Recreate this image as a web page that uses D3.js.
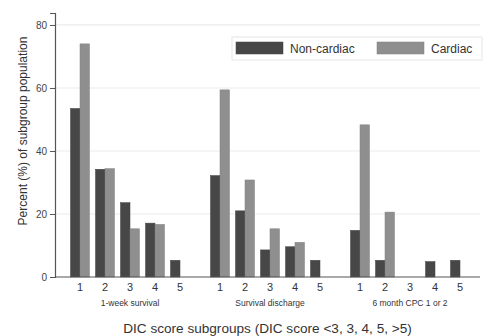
<!DOCTYPE html>
<html><head><meta charset="utf-8">
<script src="https://cdn.jsdelivr.net/npm/d3@7"></script>
<style>body{margin:0;background:#fff}svg{display:block;font-family:"Liberation Sans",Arial,sans-serif}</style>
</head><body><svg id="c" width="485" height="336"></svg>
<script>
const groups = ["1-week survival", "Survival discharge", "6 month CPC 1 or 2"];
const categories = ["1", "2", "3", "4", "5"];
const seriesNames = ["Non-cardiac", "Cardiac"];
const nonCardiac = [
  [53.5, 34.2, 23.6, 17.1, 5.3],
  [32.2, 21.0, 8.6, 9.6, 5.3],
  [14.8, 5.3, 0, 4.9, 5.3]
];
const cardiac = [
  [74.0, 34.4, 15.3, 16.7, 0],
  [59.4, 30.8, 15.3, 11.0, 0],
  [48.3, 20.6, 0, 0, 0]
];
const yTicks = [0, 20, 40, 60, 80];
const colors = ["#474747", "#8f8f8f"];

(function(){
const svg = d3.select("#c");
const mLeft = 55, mRight = 480, mTop = 13, mBottom = 277;
const y = d3.scaleLinear().domain([0, 83.8]).range([mBottom, mTop]);
const xg = d3.scaleBand().domain(groups).range([60, 480]).paddingInner(15/140).paddingOuter(7.5/140);
const xc = d3.scaleBand().domain(categories).range([0, xg.bandwidth()]).paddingInner(0.24).paddingOuter(0.12);
const xs = d3.scaleBand().domain(seriesNames).range([0, xc.bandwidth()]);

// gridlines
svg.append("g").selectAll("line").data(yTicks.filter(d => d > 0)).join("line")
  .attr("x1", mLeft).attr("x2", mRight).attr("y1", d => y(d)).attr("y2", d => y(d))
  .attr("stroke", "#ebebeb").attr("stroke-width", 1.2);

// bars
const data = [];
groups.forEach((g, gi) => categories.forEach((c, ci) => {
  data.push({g, c, s: seriesNames[0], v: nonCardiac[gi][ci], col: colors[0]});
  data.push({g, c, s: seriesNames[1], v: cardiac[gi][ci], col: colors[1]});
}));
svg.append("g").selectAll("rect").data(data.filter(d => d.v > 0)).join("rect")
  .attr("x", d => xg(d.g) + xc(d.c) + xs(d.s))
  .attr("width", xs.bandwidth())
  .attr("y", d => y(d.v))
  .attr("height", d => y(0) - y(d.v))
  .attr("fill", d => d.col)
  .attr("stroke", d => d3.color(d.col).darker(0.3)).attr("stroke-width", 0.5);

// y axis
const yAxis = d3.axisLeft(y).tickValues(yTicks).tickSize(5).tickPadding(3);
const ya = svg.append("g").attr("transform", `translate(${mLeft},0)`).call(yAxis);
ya.select(".domain").attr("stroke", "#555").attr("stroke-width", 1.2);
ya.selectAll(".tick line").attr("stroke", "#555");
ya.selectAll("text").attr("font-size", 10).attr("fill", "#444").attr("font-family", "Liberation Sans, Arial, sans-serif");

// x axis line
svg.append("line").attr("x1", mLeft).attr("x2", mRight).attr("y1", mBottom).attr("y2", mBottom)
  .attr("stroke", "#555").attr("stroke-width", 1.2);

// category tick labels
const tl = [];
groups.forEach(g => categories.forEach(c => tl.push({g, c})));
svg.append("g").selectAll("text").data(tl).join("text")
  .attr("x", d => xg(d.g) + xc(d.c) + xc.bandwidth() / 2)
  .attr("y", 291).attr("text-anchor", "middle").attr("font-size", 11).attr("fill", "#333")
  .text(d => d.c);

// group labels
svg.append("g").selectAll("text").data(groups).join("text")
  .attr("x", d => xg(d) + xg.bandwidth() / 2).attr("y", 306)
  .attr("text-anchor", "middle").attr("font-size", 8.5).attr("fill", "#333")
  .text(d => d);

// axis titles
svg.append("text").attr("x", 267.5).attr("y", 333).attr("text-anchor", "middle")
  .attr("font-size", 13.6).attr("fill", "#333").text("DIC score subgroups (DIC score <3, 3, 4, 5, >5)");
svg.append("text").attr("transform", "translate(27,131) rotate(-90)").attr("text-anchor", "middle")
  .attr("font-size", 12).attr("fill", "#333").text("Percent (%) of subgroup population");

// legend
const lg = svg.append("g");
lg.append("rect").attr("x", 232).attr("y", 37).attr("width", 250).attr("height", 23)
  .attr("fill", "#fff").attr("stroke", "#e6e6e6");
const lx = [236, 377], tx = [290, 431];
seriesNames.forEach((s, i) => {
  lg.append("rect").attr("x", lx[i]).attr("y", 42).attr("width", 47).attr("height", 12)
    .attr("fill", colors[i]).attr("stroke", d3.color(colors[i]).darker(0.3)).attr("stroke-width", 0.5);
  lg.append("text").attr("x", tx[i]).attr("y", 52.5).attr("font-size", 12).attr("fill", "#333").text(s);
});
})();
</script></body></html>
